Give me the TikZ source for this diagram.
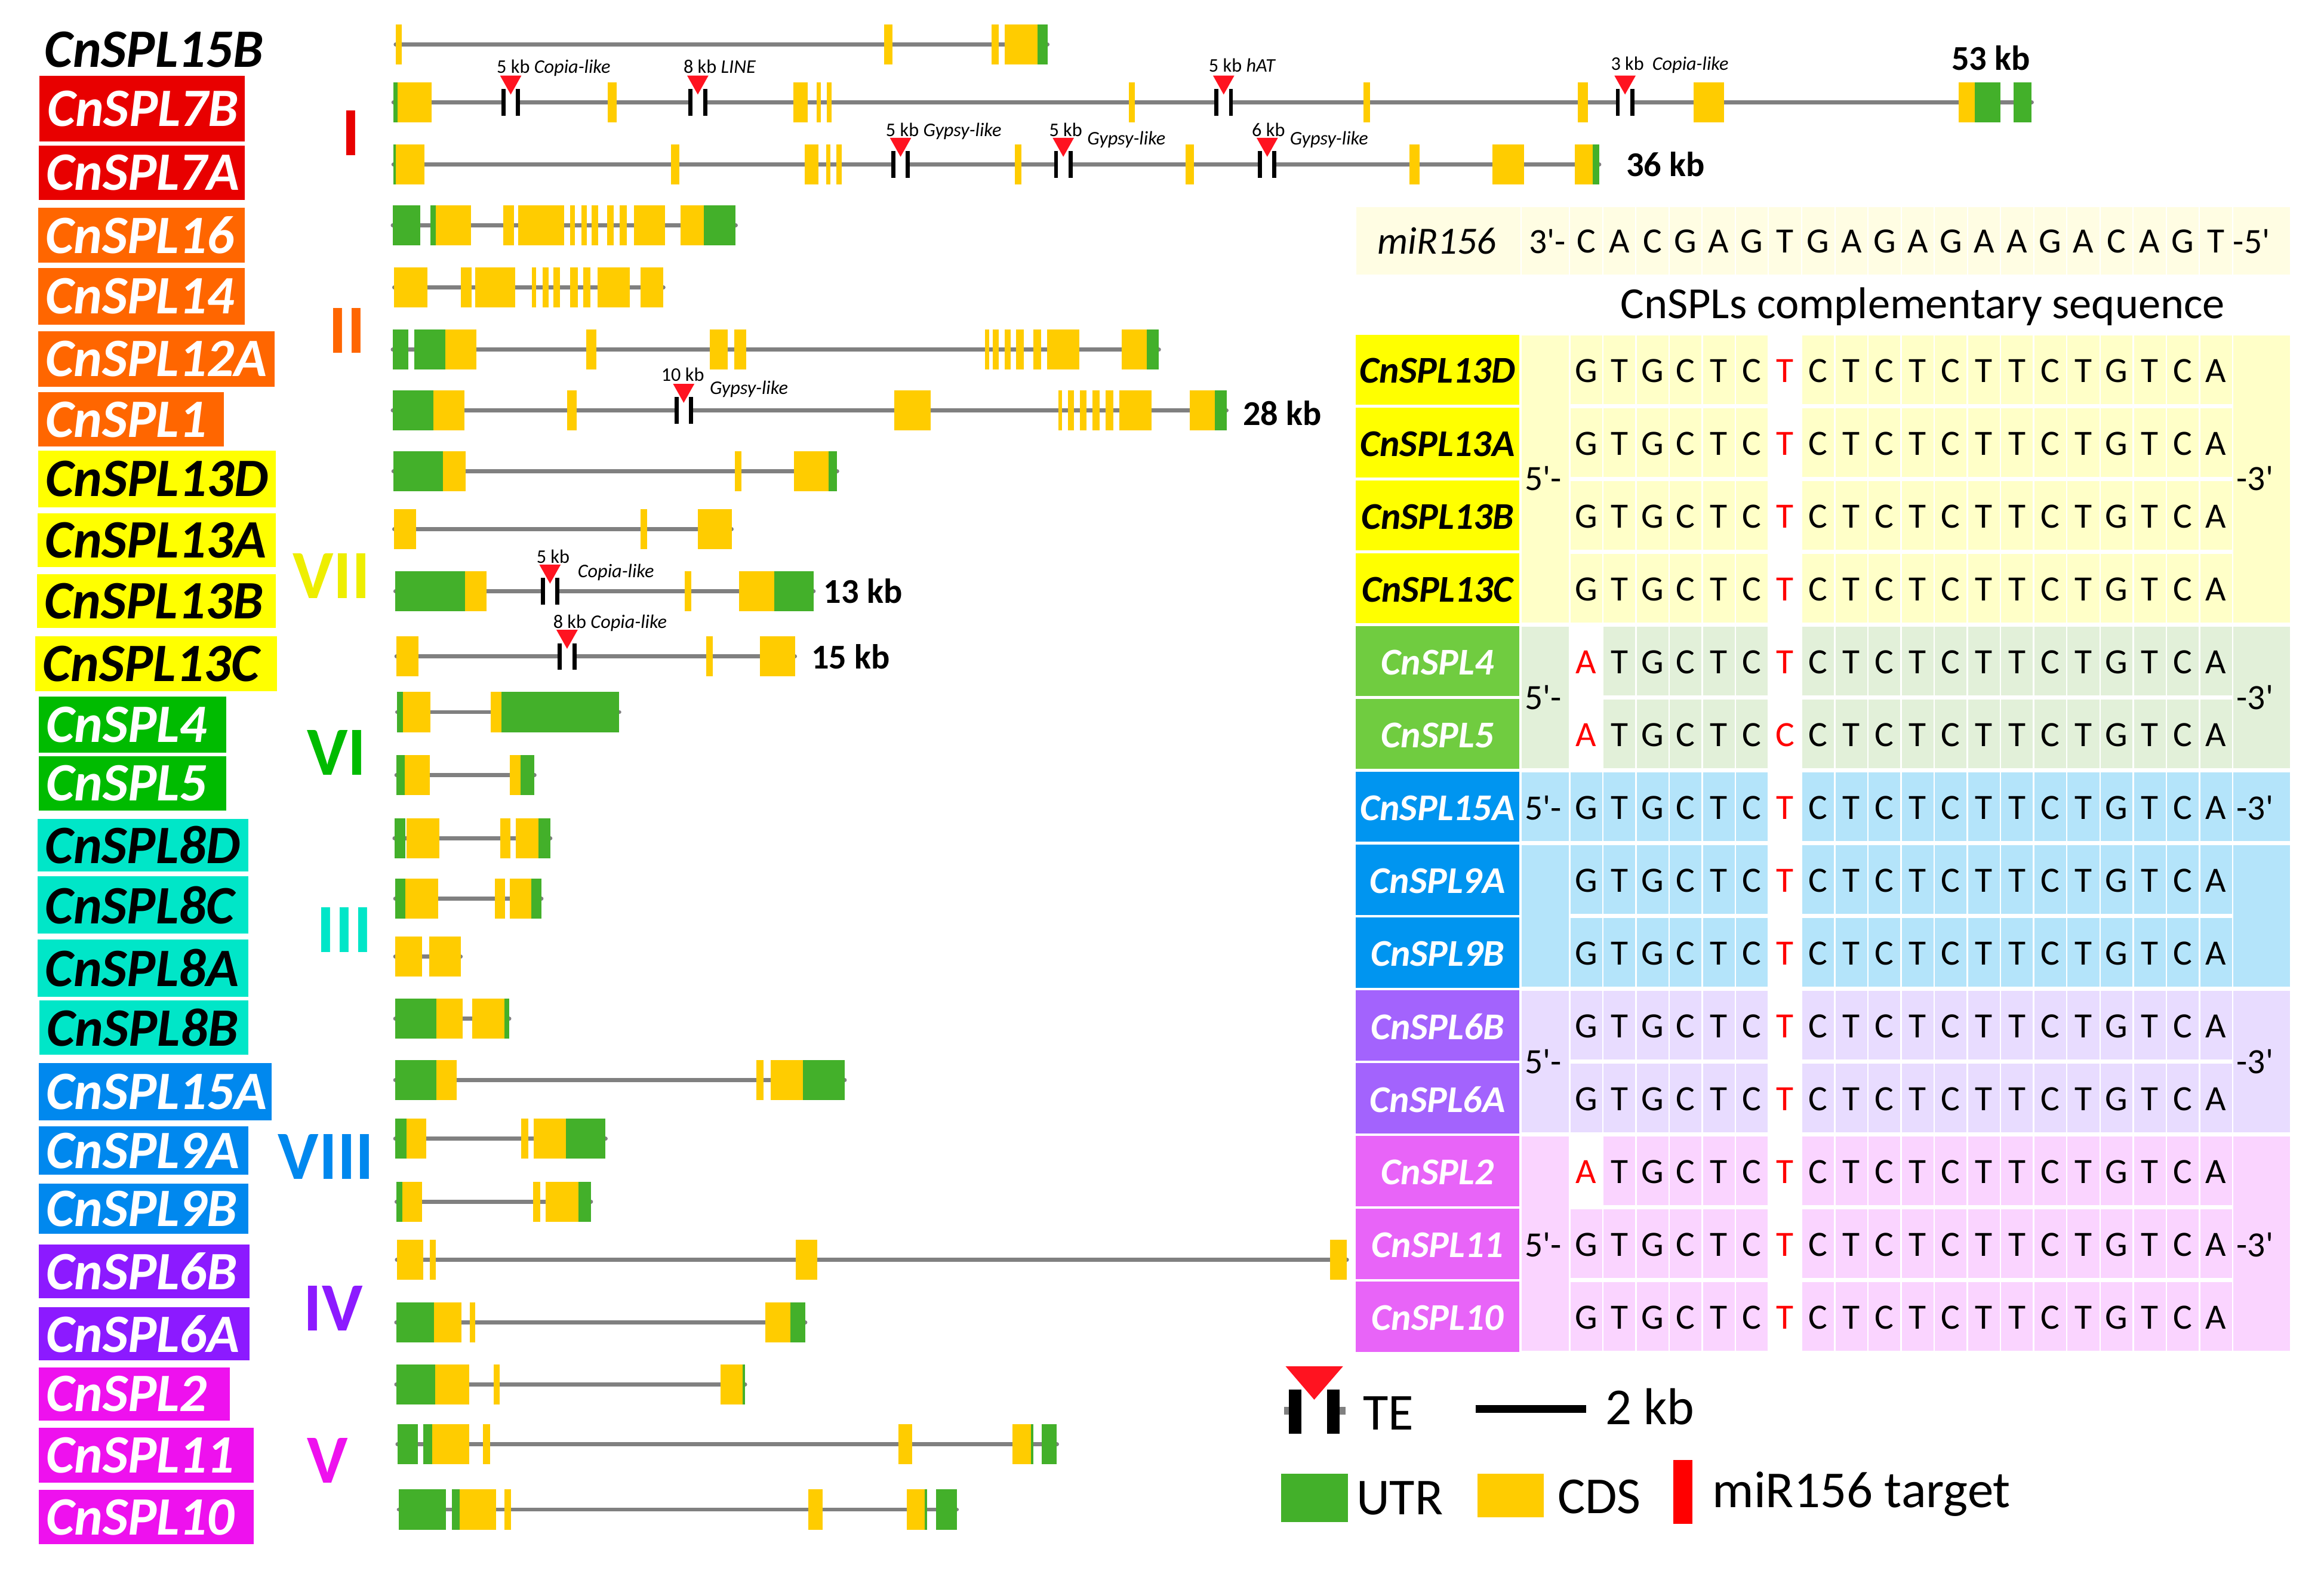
\documentclass[tikz,border=0pt]{standalone}
\usepackage{fontspec}
\setmainfont{Carlito}[Ligatures=TeXOff]
\newcommand\fsz[1]{\fontsize{#1}{#1}\selectfont}
\definecolor{cdsc}{HTML}{FFCC00}
\definecolor{utrc}{HTML}{43B02A}
\definecolor{linegray}{HTML}{808080}
\definecolor{tered}{HTML}{FF1320}
\definecolor{gI}{HTML}{E80000}
\definecolor{gII}{HTML}{FF6600}
\definecolor{gVII}{HTML}{FFFF00}
\definecolor{gVIIn}{HTML}{EEEE00}
\definecolor{gVI}{HTML}{00BB00}
\definecolor{gIII}{HTML}{00E6C8}
\definecolor{gVIII}{HTML}{0088EE}
\definecolor{gIV}{HTML}{8C1AFF}
\definecolor{gV}{HTML}{EE11EE}
\definecolor{tY}{HTML}{FFFF00}\definecolor{cY}{HTML}{FFFFC8}
\definecolor{tG}{HTML}{70CC40}\definecolor{cG}{HTML}{E2F0D9}
\definecolor{tB}{HTML}{0095F0}\definecolor{cB}{HTML}{B4E4FA}
\definecolor{tP}{HTML}{A363FD}\definecolor{cP}{HTML}{E8DCFF}
\definecolor{tM}{HTML}{E864F8}\definecolor{cM}{HTML}{FAD4FF}
\definecolor{cTop}{HTML}{FFFDE3}
\definecolor{ntred}{HTML}{FF0000}
\tikzset{
 geneline/.style={draw=linegray,line width=2.8pt,line cap=round},
 lab/.style={font=\fsz{36.5}\bfseries\itshape,inner sep=0pt,anchor=west},
 roman/.style={font=\fsz{46.6}\bfseries,inner sep=0pt},
 telab/.style={font=\fsz{13},inner sep=0pt,anchor=base west},
 kb/.style={font=\fsz{23.5}\bfseries,inner sep=0pt,anchor=base west},
 tlab/.style={font=\fsz{25.5}\bfseries\itshape,inner sep=0pt},
 nt/.style={font=\fsz{24},inner sep=0pt},
 prime/.style={font=\fsz{24},inner sep=0pt,anchor=west},
 leg/.style={font=\fsz{35},inner sep=0pt,anchor=base west},
 cellw/.style={draw=white,line width=1pt},
}
% gene drawing helpers
\newcommand\gl[3]{\draw[geneline] (#1,#3) -- (#2,#3);}
\newcommand\cd[3]{\fill[cdsc] (#1,{#3-13.5}) rectangle (#2,{#3+13.5});}
\newcommand\ut[3]{\fill[utrc] (#1,{#3-13.5}) rectangle (#2,{#3+13.5});}
\newcommand\te[2]{%
 \fill[white] ({#1-3.5},{#2-1.7}) rectangle ({#1+3.5},{#2+1.7});
 \fill[black] ({#1-6.3},{#2-9}) rectangle ({#1-3.5},{#2+9});
 \fill[black] ({#1+3.5},{#2-9}) rectangle ({#1+6.3},{#2+9});
 \fill[tered] ({#1-7.2},{#2-18}) -- ({#1+7.2},{#2-18}) -- (#1,{#2-5.2}) -- cycle;}
\newcommand\glab[7]{%
 \fill[#6] (#2,#4) rectangle (#3,#5);
 \node[lab,text=#7] (#1) at ({#2+5},{(#4+#5)/2}) {#1};}
% table row
\newcommand\trow[9]{%
 \pgfmathsetmacro\rowT{225.9+#1*49.15}%
 \pgfmathsetmacro\rowB{\rowT+47.3}%
 \pgfmathsetmacro\rowM{\rowT+24.4}%
 \fill[#3] (914.6,\rowT) rectangle (1025.2,\rowB);
 \node[tlab,text=#4] (L#1) at (969.9,\rowM) {#2};
 \fill[#6,cellw] (1059,\rowT) rectangle (1081.365,\rowB);
 \node[nt,text=#8] (N#1x1) at (1070.18,\rowM) {#7};
 \foreach \i/\c in {2/T,3/G,4/C,5/T,6/C,8/C,9/T,10/C,11/T,12/C,13/T,14/T,15/C,16/T,17/G,18/T,19/C,20/A} {
   \fill[#5,cellw] ({1059+(\i-1)*22.365},\rowT) rectangle ({1059+\i*22.365},\rowB);
   \node[nt] (N#1x\i) at ({1059+(\i-0.5)*22.365},\rowM) {\c};
 }
 \node[nt,text=ntred] (N#1x7) at ({1059+6.5*22.365},\rowM) {#9};}
\newcommand\gcol[3]{%
 \pgfmathsetmacro\gT{225.9+#1*49.15}%
 \pgfmathsetmacro\gB{225.9+#2*49.15+47.3}%
 \fill[#3,cellw] (1026.3,\gT) rectangle (1059,\gB);
 \fill[#3,cellw] (1506.3,\gT) rectangle (1545.5,\gB);}
\begin{document}
\begin{tikzpicture}[x=1pt,y=-1pt]
\useasboundingbox (0,0) rectangle (1568,1062);
\fill[white] (0,0) rectangle (1568,1062);
% ---------- left labels ----------
\node[lab,text=black] (CnSPL15B) at (30,33.5) {CnSPL15B};
\glab{CnSPL7B}{26.7}{165.3}{51.3}{95.5}{gI}{white}
\glab{CnSPL7A}{26}{165.3}{98.3}{134.8}{gI}{white}
\glab{CnSPL16}{25.7}{165.3}{140.3}{177.1}{gII}{white}
\glab{CnSPL14}{25.7}{165.3}{180.8}{219}{gII}{white}
\glab{CnSPL12A}{25.7}{185.3}{223.6}{260.8}{gII}{white}
\glab{CnSPL1}{25.7}{150.9}{264.7}{301.3}{gII}{white}
\glab{CnSPL13D}{25.7}{186}{304}{342.2}{gVII}{black}
\glab{CnSPL13A}{25.4}{185.9}{346.5}{382.8}{gVII}{black}
\glab{CnSPL13B}{24.9}{185.9}{387.4}{423.7}{gVII}{black}
\glab{CnSPL13C}{23.7}{187}{429.2}{466.5}{gVII}{black}
\glab{CnSPL4}{26}{152.6}{470.2}{507.8}{gVI}{white}
\glab{CnSPL5}{26}{152.6}{510.2}{547.1}{gVI}{white}
\glab{CnSPL8D}{25.4}{167.5}{552.5}{588.1}{gIII}{black}
\glab{CnSPL8C}{25.4}{167.5}{591.3}{630.1}{gIII}{black}
\glab{CnSPL8A}{25.4}{167.5}{634.1}{672.5}{gIII}{black}
\glab{CnSPL8B}{26.5}{167.5}{675.2}{711.5}{gIII}{black}
\glab{CnSPL15A}{26}{183.3}{717.3}{756}{gVIII}{white}
\glab{CnSPL9A}{26}{167.5}{760.1}{792.8}{gVIII}{white}
\glab{CnSPL9B}{26}{167.5}{798.8}{832.4}{gVIII}{white}
\glab{CnSPL6B}{26}{168.4}{839.9}{876}{gIV}{white}
\glab{CnSPL6A}{26}{168.4}{882.2}{917.8}{gIV}{white}
\glab{CnSPL2}{26}{155.1}{922.6}{958.7}{gV}{white}
\glab{CnSPL11}{26}{171.2}{963.5}{1000.5}{gV}{white}
\glab{CnSPL10}{26}{171.2}{1005.3}{1042.1}{gV}{white}
% ---------- roman numerals ----------
\node[roman,text=gI] (rI) at (236.7,89.8) {I};
\node[roman,text=gII] (rII) at (234,223) {II};
\node[roman,text=gVIIn] (rVII) at (223.8,388.5) {VII};
\node[roman,text=gVI] (rVI) at (227.2,507.8) {VI};
\node[roman,text=gIII] (rIII) at (232.3,627.5) {III};
\node[roman,text=gVIII] (rVIII) at (220,780.5) {VIII};
\node[roman,text=gIV] (rIV) at (224.8,883) {IV};
\node[roman,text=gV] (rV) at (221,985.5) {V};
% ---------- gene structures ----------
% 1 CnSPL15B
\gl{267}{706.7}{30}
\cd{267.1}{271.1}{30}\cd{596.5}{602.2}{30}\cd{669}{673.7}{30}\cd{678}{700}{30}\ut{700}{706.7}{30}
% 2 CnSPL7B
\gl{265.5}{1370.8}{69}
\ut{265.5}{268.1}{69}\cd{268.1}{291.2}{69}\cd{410}{416}{69}\cd{535.4}{544.8}{69}\cd{550.8}{553.8}{69}
\cd{557.8}{561.1}{69}\cd{761.8}{765.6}{69}\cd{919.8}{924.4}{69}\cd{1064.7}{1071.3}{69}\cd{1142.5}{1163}{69}
\cd{1321.6}{1332.4}{69}\ut{1332.4}{1349.8}{69}\ut{1358.5}{1370.8}{69}
\te{344.6}{69}\te{470.8}{69}\te{825.6}{69}\te{1096.4}{69}
% 3 CnSPL7A
\gl{265.5}{1079}{111}
\ut{265.5}{267.1}{111}\cd{267.1}{286.5}{111}\cd{452.7}{458.5}{111}\cd{543.1}{552.1}{111}\cd{557.5}{560.1}{111}
\cd{564.1}{567.8}{111}\cd{684.7}{689}{111}\cd{800}{805.6}{111}\cd{951}{957.7}{111}\cd{1006.8}{1028.3}{111}
\cd{1062.6}{1074.4}{111}\ut{1074.4}{1079}{111}
\te{607.6}{111}\te{717.4}{111}\te{855}{111}
% 4 CnSPL16
\gl{265}{496.4}{152}
\ut{265}{283.7}{152}\ut{290.4}{294}{152}\cd{294}{317.7}{152}\cd{339.4}{346.8}{152}\cd{349.5}{380.5}{152}
\cd{384.8}{387.9}{152}\cd{392.2}{395.9}{152}\cd{399.2}{403.5}{152}\cd{409.6}{414.2}{152}\cd{417.9}{423}{152}
\cd{427.6}{448.6}{152}\cd{459}{474.7}{152}\ut{474.7}{496.4}{152}
% 5 CnSPL14
\gl{266}{447.6}{194}
\cd{266}{288.3}{194}\cd{311}{318.1}{194}\cd{320.7}{347.4}{194}\cd{358.8}{361.5}{194}\cd{366.1}{370.2}{194}
\cd{373.5}{377.8}{194}\cd{384.5}{389.9}{194}\cd{393.5}{398.2}{194}\cd{403.2}{424.9}{194}\cd{432.3}{447.6}{194}
% 6 CnSPL12A
\gl{265}{781.9}{236}
\ut{265}{275.3}{236}\ut{279.7}{300.4}{236}\cd{300.4}{321.4}{236}\cd{395.5}{402.2}{236}\cd{479}{491}{236}
\cd{495.4}{503.4}{236}\cd{664.5}{667.2}{236}\cd{670}{674}{236}\cd{677.7}{682}{236}\cd{685.7}{690.8}{236}
\cd{697}{702.3}{236}\cd{706.4}{728.2}{236}\cd{756.8}{773.8}{236}\ut{773.8}{781.9}{236}
% 7 CnSPL1
\gl{265}{827.5}{277}
\ut{265}{292.4}{277}\cd{292.4}{313.4}{277}\cd{382.5}{389.2}{277}\cd{603.2}{627.9}{277}\cd{714}{716.6}{277}
\cd{720.7}{724.5}{277}\cd{728.6}{733.2}{277}\cd{737.1}{741.8}{277}\cd{746}{751.3}{277}\cd{755.1}{776.9}{277}
\cd{802.8}{819.5}{277}\ut{819.5}{827.5}{277}
\te{461.3}{277}
% 8 CnSPL13D
\gl{265.5}{564.8}{318}
\ut{265.5}{299}{318}\cd{299}{314}{318}\cd{496}{500.2}{318}\cd{535.6}{559}{318}\ut{559}{564.8}{318}
% 9 CnSPL13A
\gl{266}{493.6}{357}
\cd{266}{280.8}{357}\cd{432.2}{436.6}{357}\cd{470.8}{493.6}{357}
% 10 CnSPL13B
\gl{266.8}{548.9}{399}
\ut{266.8}{313.8}{399}\cd{313.8}{328.4}{399}\cd{462}{466.4}{399}\cd{498.5}{522.4}{399}\ut{522.4}{548.9}{399}
\te{371.1}{399}
% 11 CnSPL13C
\gl{267.5}{536.3}{443}
\cd{267.5}{282.2}{443}\cd{476.4}{480.8}{443}\cd{512.6}{536.3}{443}
\te{382.6}{443}
% 12 CnSPL4
\gl{268}{417.8}{480.5}
\ut{268}{271.7}{480.5}\cd{271.7}{290.4}{480.5}\cd{331}{338.2}{480.5}\ut{338.2}{417.8}{480.5}
% 13 CnSPL5
\gl{267.5}{360.6}{523}
\ut{267.5}{273}{523}\cd{273}{289.9}{523}\cd{343.8}{351.3}{523}\ut{351.3}{360.6}{523}
% 14 CnSPL8D
\gl{266.2}{371.3}{565.6}
\ut{266.2}{273.5}{565.6}\cd{274.1}{296.4}{565.6}\cd{337.7}{344.2}{565.6}\cd{348.1}{363.1}{565.6}\ut{363.1}{371.3}{565.6}
% 15 CnSPL8C
\gl{266.7}{365.3}{606.4}
\ut{266.7}{273.5}{606.4}\cd{273.5}{295.8}{606.4}\cd{334}{340.8}{606.4}\cd{343.9}{358.6}{606.4}\ut{358.6}{365.3}{606.4}
% 16 CnSPL8A
\gl{266.7}{310.8}{645.6}
\cd{266.7}{284.8}{645.6}\cd{289.6}{310.8}{645.6}
% 17 CnSPL8B
\gl{266.7}{343.6}{687.5}
\ut{266.7}{294.4}{687.5}\cd{294.4}{312.2}{687.5}\cd{318.4}{340.5}{687.5}\ut{340.5}{343.6}{687.5}
% 18 CnSPL15A
\gl{266.7}{569.9}{728.7}
\ut{266.7}{294.4}{728.7}\cd{294.4}{308.3}{728.7}\cd{510.5}{515}{728.7}\cd{520.1}{541.6}{728.7}\ut{541.6}{569.9}{728.7}
% 19 CnSPL9A
\gl{266.7}{408.6}{768.4}
\ut{266.7}{274.1}{768.4}\cd{274.1}{287.4}{768.4}\cd{351.8}{356.3}{768.4}\cd{360}{382}{768.4}\ut{382}{408.6}{768.4}
% 20 CnSPL9B
\gl{267.6}{398.7}{810.8}
\ut{267.6}{271.3}{810.8}\cd{271.3}{284.8}{810.8}\cd{359.7}{364.5}{810.8}\cd{368.2}{390.2}{810.8}\ut{390.2}{398.7}{810.8}
% 21 CnSPL6B
\gl{267.8}{908.7}{850.1}
\cd{267.8}{285.7}{850.1}\cd{290}{294}{850.1}\cd{536.7}{551.2}{850.1}\cd{897.4}{908.7}{850.1}
% 22 CnSPL6A
\gl{267.4}{543.3}{892.4}
\ut{267.4}{292.7}{892.4}\cd{292.7}{311.5}{892.4}\cd{317.1}{320.6}{892.4}\cd{516.2}{533.2}{892.4}\ut{533.2}{543.3}{892.4}
% 23 CnSPL2
\gl{267.4}{502.7}{934.1}
\ut{267.4}{293.6}{934.1}\cd{293.6}{316.7}{934.1}\cd{332.9}{337.2}{934.1}\cd{486.1}{501}{934.1}\ut{501}{502.7}{934.1}
% 24 CnSPL11
\gl{268.2}{713.1}{974.6}
\ut{268.2}{281.8}{974.6}\ut{285.7}{291.8}{974.6}\cd{291.8}{316.7}{974.6}\cd{325.9}{330.7}{974.6}\cd{606.2}{615.3}{974.6}
\cd{683}{695.7}{974.6}\ut{695.7}{697}{974.6}\ut{702.7}{713.1}{974.6}
% 25 CnSPL10
\gl{269.1}{645.5}{1018.6}
\ut{269.1}{301}{1018.6}\ut{304.9}{310.1}{1018.6}\cd{310.1}{334.6}{1018.6}\cd{340.3}{344.6}{1018.6}\cd{545.5}{555.1}{1018.6}
\cd{611.8}{624}{1018.6}\ut{624}{625.4}{1018.6}\ut{631.5}{645.5}{1018.6}
% ---------- TE labels ----------
\node[telab] (t1) at (335,49.5) {5 kb \textit{Copia-like}};
\node[telab] (t2) at (461,49.5) {8 kb \textit{LINE}};
\node[telab] (t3) at (815.4,48.5) {5 kb \textit{hAT}};
\node[telab] (t4) at (1086.7,47.5) {3 kb\hspace{5.6pt}\textit{Copia-like}};
\node[telab] (t5) at (597.5,92) {5 kb \textit{Gypsy-like}};
\node[telab] (t6a) at (707.7,92) {5 kb};
\node[telab] (t6b) at (733.4,97.5) {\textit{Gypsy-like}};
\node[telab] (t7a) at (844.5,92) {6 kb};
\node[telab] (t7b) at (870.1,97.5) {\textit{Gypsy-like}};
\node[telab] (t8a) at (446,257) {10 kb};
\node[telab] (t8b) at (478.7,266) {\textit{Gypsy-like}};
\node[telab] (t9a) at (361.8,380) {5 kb};
\node[telab] (t9b) at (389.6,389.5) {\textit{Copia-like}};
\node[telab] (t10) at (373.1,423.8) {8 kb \textit{Copia-like}};
% ---------- sizes ----------
\node[kb] (s53) at (1316.5,47.4) {53 kb};
\node[kb] (s36) at (1097,119) {36 kb};
\node[kb] (s28) at (838.4,287) {28 kb};
\node[kb] (s13) at (555.5,407) {13 kb};
\node[kb] (s15) at (547.3,451.4) {15 kb};
% ---------- miR156 row ----------
\fill[cTop,draw=white,line width=0.8pt] (914.6,139.3) rectangle (1026.3,185.6);
\fill[cTop,draw=white,line width=0.8pt] (1026.3,139.3) rectangle (1059,185.6);
\fill[cTop,draw=white,line width=0.8pt] (1506.3,139.3) rectangle (1545.5,185.6);
\node[font=\fsz{26}\itshape,inner sep=0pt] (mir) at (969.5,162.4) {miR156};
\node[prime] (m3) at (1031.5,163) {3'-};
\node[prime] (m5) at (1506.5,163) {-5'};
\foreach \i/\c in {1/C,2/A,3/C,4/G,5/A,6/G,7/T,8/G,9/A,10/G,11/A,12/G,13/A,14/A,15/G,16/A,17/C,18/A,19/G,20/T} {
  \fill[cTop,draw=white,line width=0.8pt] ({1059+(\i-1)*22.365},139.3) rectangle ({1059+\i*22.365},185.6);
  \node[nt] (M\i) at ({1059+(\i-0.5)*22.365},163) {\c};
}
\node[font=\fsz{30},inner sep=0pt,anchor=base west] (comp) at (1093.1,215) {CnSPLs complementary sequence};
% ---------- table ----------
\gcol{0}{3}{cY}
\gcol{4}{5}{cG}
\gcol{6}{6}{cB}
\gcol{7}{8}{cB}
\gcol{9}{10}{cP}
\gcol{11}{13}{cM}
\trow{0}{CnSPL13D}{tY}{black}{cY}{cY}{G}{black}{T}
\trow{1}{CnSPL13A}{tY}{black}{cY}{cY}{G}{black}{T}
\trow{2}{CnSPL13B}{tY}{black}{cY}{cY}{G}{black}{T}
\trow{3}{CnSPL13C}{tY}{black}{cY}{cY}{G}{black}{T}
\trow{4}{CnSPL4}{tG}{white}{cG}{white}{A}{ntred}{T}
\trow{5}{CnSPL5}{tG}{white}{cG}{white}{A}{ntred}{C}
\trow{6}{CnSPL15A}{tB}{white}{cB}{cB}{G}{black}{T}
\trow{7}{CnSPL9A}{tB}{white}{cB}{cB}{G}{black}{T}
\trow{8}{CnSPL9B}{tB}{white}{cB}{cB}{G}{black}{T}
\trow{9}{CnSPL6B}{tP}{white}{cP}{cP}{G}{black}{T}
\trow{10}{CnSPL6A}{tP}{white}{cP}{cP}{G}{black}{T}
\trow{11}{CnSPL2}{tM}{white}{cM}{white}{A}{ntred}{T}
\trow{12}{CnSPL11}{tM}{white}{cM}{cM}{G}{black}{T}
\trow{13}{CnSPL10}{tM}{white}{cM}{cM}{G}{black}{T}
\node[prime] (p5a) at (1028.6,323) {5'-};
\node[prime] (p3a) at (1508.8,323) {-3'};
\node[prime] (p5b) at (1028.6,470.7) {5'-};
\node[prime] (p3b) at (1508.8,470.7) {-3'};
\node[prime] (p5c) at (1028.6,545.2) {5'-};
\node[prime] (p3c) at (1508.8,545.2) {-3'};
\node[prime] (p5d) at (1028.6,716.5) {5'-};
\node[prime] (p3d) at (1508.8,716.5) {-3'};
\node[prime] (p5e) at (1028.6,840.1) {5'-};
\node[prime] (p3e) at (1508.8,840.1) {-3'};
% ---------- legend ----------
\draw[linegray,line width=5pt] (866.5,952) -- (870,952);
\draw[linegray,line width=5pt] (903.5,952) -- (908,952);
\fill[black] (869.7,937.8) rectangle (878,967.5);
\fill[black] (895.5,937.8) rectangle (903.8,967.5);
\fill[tered] (867.4,922) -- (906.1,922) -- (886.7,944.5) -- cycle;
\node[leg] (lTE) at (919.5,964.7) {TE};
\draw[black,line width=5.5pt] (995.5,950.7) -- (1070.1,950.7);
\node[leg] (l2kb) at (1083,961.4) {2 kb};
\fill[utrc] (864.2,994.5) rectangle (909.4,1027);
\node[leg] (lUTR) at (914.9,1022.2) {UTR};
\fill[cdsc] (996.8,994.3) rectangle (1041.5,1023.8);
\node[leg] (lCDS) at (1050.7,1021.2) {CDS};
\fill[ntred] (1129,985) rectangle (1142,1028.3);
\node[leg] (lmir) at (1155.2,1017.3) {miR156 target};
\end{tikzpicture}
\end{document}
